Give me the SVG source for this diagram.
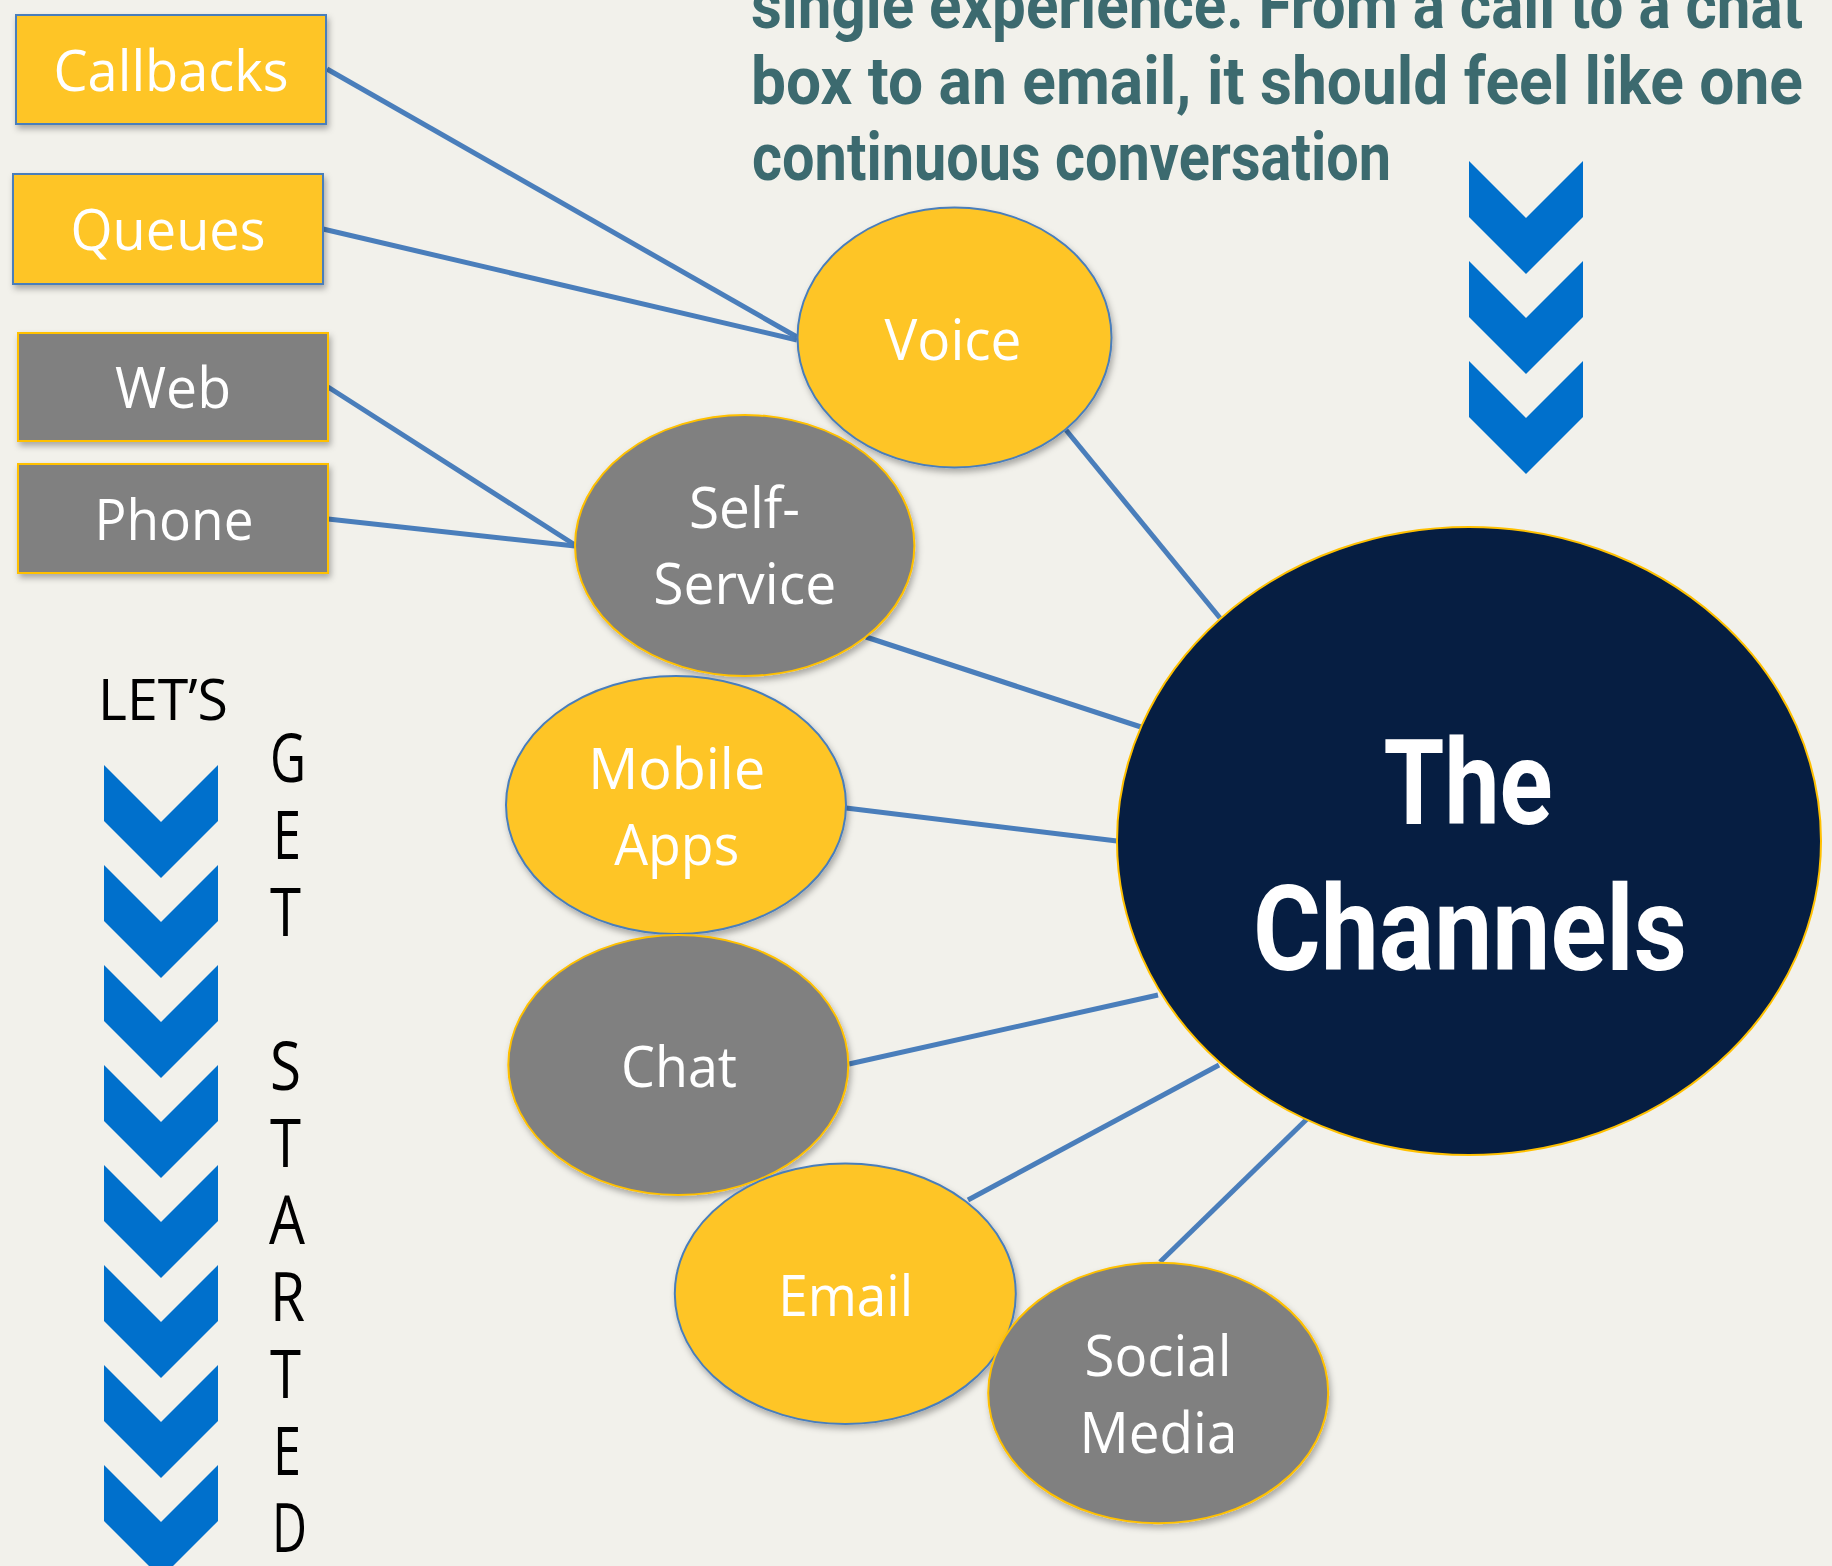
<svg xmlns="http://www.w3.org/2000/svg" xmlns:xlink="http://www.w3.org/1999/xlink" width="1832" height="1566" viewBox="0 0 1832 1566">
  <defs>
    <style>
      .bg { fill: #F2F1EB; }
      .gold { fill: #FEC526; stroke: #4A7EBB; stroke-width: 2; }
      .grey { fill: #808080; stroke: #FFC000; stroke-width: 2; }
      .hub { fill: #061E42; stroke: #FFC000; stroke-width: 2; }
      .lbl { font-family: "Open Sans", "Liberation Sans", sans-serif; font-size: 57px; fill: #FFFFFF; text-anchor: middle; }
      .side { font-family: "Open Sans", "Liberation Sans", sans-serif; fill: #000000; }
      .head { font-family: Roboto, "Liberation Sans", sans-serif; font-weight: 700; font-size: 66px; fill: #3C6A6F; }
      .hubtxt { font-family: Roboto, "Liberation Sans", sans-serif; font-weight: 700; font-size: 118px; fill: #FFFFFF; text-anchor: middle; }
      .link { stroke: #4A7EBB; stroke-width: 5; fill: none; stroke-linecap: butt; }
      .chev { fill: #0070CC; }
    </style>
    <filter id="shadow" x="-10%" y="-10%" width="125%" height="130%">
      <feDropShadow dx="2" dy="4" stdDeviation="3" flood-color="#000000" flood-opacity="0.3"/>
    </filter>
    <path id="chevron" class="chev" d="M0 0 L57 57 L114 0 L114 56 L57 113 L0 56 Z"/>
  </defs>

  <rect class="bg" x="0" y="0" width="1832" height="1566"/>

  <!-- intro paragraph, top right -->
  <g id="intro">
    <text class="head" x="751" y="28" textLength="1052" lengthAdjust="spacingAndGlyphs">single experience. From a call to a chat</text>
    <text class="head" x="751" y="104" textLength="1052" lengthAdjust="spacingAndGlyphs">box to an email, it should feel like one</text>
    <text class="head" x="752" y="180" textLength="639" lengthAdjust="spacingAndGlyphs">continuous conversation</text>
  </g>

  <!-- downward chevrons under the paragraph -->
  <g id="chevrons-right">
    <use xlink:href="#chevron" x="1469" y="161"/>
    <use xlink:href="#chevron" x="1469" y="261"/>
    <use xlink:href="#chevron" x="1469" y="361"/>
  </g>

  <!-- LET'S GET STARTED column -->
  <g id="get-started">
    <text class="side" x="163" y="720" font-size="57" text-anchor="middle" textLength="130" lengthAdjust="spacingAndGlyphs">LET’S</text>
    <g font-size="67">
      <text class="side" x="270" y="782" textLength="36" lengthAdjust="spacingAndGlyphs">G</text>
      <text class="side" x="273" y="859" textLength="28" lengthAdjust="spacingAndGlyphs">E</text>
      <text class="side" x="270" y="936" textLength="31" lengthAdjust="spacingAndGlyphs">T</text>
      <text class="side" x="270" y="1090" textLength="31" lengthAdjust="spacingAndGlyphs">S</text>
      <text class="side" x="270" y="1167" textLength="31" lengthAdjust="spacingAndGlyphs">T</text>
      <text class="side" x="269" y="1244" textLength="36" lengthAdjust="spacingAndGlyphs">A</text>
      <text class="side" x="270" y="1321" textLength="35" lengthAdjust="spacingAndGlyphs">R</text>
      <text class="side" x="270" y="1398" textLength="31" lengthAdjust="spacingAndGlyphs">T</text>
      <text class="side" x="273" y="1475" textLength="28" lengthAdjust="spacingAndGlyphs">E</text>
      <text class="side" x="272" y="1552" textLength="35" lengthAdjust="spacingAndGlyphs">D</text>
    </g>
  </g>
  <g id="chevrons-left">
    <use xlink:href="#chevron" x="104" y="765"/>
    <use xlink:href="#chevron" x="104" y="865"/>
    <use xlink:href="#chevron" x="104" y="965"/>
    <use xlink:href="#chevron" x="104" y="1065"/>
    <use xlink:href="#chevron" x="104" y="1165"/>
    <use xlink:href="#chevron" x="104" y="1265"/>
    <use xlink:href="#chevron" x="104" y="1365"/>
    <use xlink:href="#chevron" x="104" y="1465"/>
  </g>

  <!-- connectors -->
  <g id="connectors">
    <line class="link" x1="327" y1="69" x2="797" y2="337"/>
    <line class="link" x1="323" y1="229" x2="797" y2="340"/>
    <line class="link" x1="328" y1="387" x2="575" y2="545"/>
    <line class="link" x1="328" y1="519" x2="575" y2="546"/>
    <line class="link" x1="1066" y1="430" x2="1220" y2="618"/>
    <line class="link" x1="866" y1="637" x2="1141" y2="727"/>
    <line class="link" x1="846" y1="808" x2="1117" y2="841"/>
    <line class="link" x1="849" y1="1064" x2="1158" y2="995"/>
    <line class="link" x1="968" y1="1200" x2="1219" y2="1065"/>
    <line class="link" x1="1160" y1="1262" x2="1308" y2="1118"/>
  </g>

  <!-- feature boxes -->
  <g id="callbacks">
    <rect class="gold" x="16" y="15" width="310" height="109" filter="url(#shadow)"/>
    <text class="lbl" x="171" y="91" textLength="235" lengthAdjust="spacingAndGlyphs">Callbacks</text>
  </g>
  <g id="queues">
    <rect class="gold" x="13" y="174" width="310" height="110" filter="url(#shadow)"/>
    <text class="lbl" x="168" y="250" textLength="195" lengthAdjust="spacingAndGlyphs">Queues</text>
  </g>
  <g id="web">
    <rect class="grey" x="18" y="333" width="310" height="108" filter="url(#shadow)"/>
    <text class="lbl" x="173" y="408" textLength="116" lengthAdjust="spacingAndGlyphs">Web</text>
  </g>
  <g id="phone">
    <rect class="grey" x="18" y="464" width="310" height="109" filter="url(#shadow)"/>
    <text class="lbl" x="174" y="540" textLength="159" lengthAdjust="spacingAndGlyphs">Phone</text>
  </g>

  <!-- channel nodes -->
  <g id="voice">
    <ellipse class="gold" cx="954.5" cy="337.5" rx="157" ry="130" filter="url(#shadow)"/>
    <text class="lbl" x="953" y="360" textLength="137" lengthAdjust="spacingAndGlyphs">Voice</text>
  </g>
  <g id="self-service">
    <ellipse class="grey" cx="744.7" cy="545.5" rx="169.7" ry="130.5" filter="url(#shadow)"/>
    <text class="lbl" x="744.5" y="528" textLength="111" lengthAdjust="spacingAndGlyphs">Self-</text>
    <text class="lbl" x="744.7" y="604" textLength="183" lengthAdjust="spacingAndGlyphs">Service</text>
  </g>
  <g id="mobile-apps">
    <ellipse class="gold" cx="676" cy="805" rx="170" ry="129" filter="url(#shadow)"/>
    <text class="lbl" x="676.7" y="789" textLength="177" lengthAdjust="spacingAndGlyphs">Mobile</text>
    <text class="lbl" x="676.7" y="865" textLength="125" lengthAdjust="spacingAndGlyphs">Apps</text>
  </g>
  <g id="chat">
    <ellipse class="grey" cx="678.3" cy="1065" rx="170" ry="130" filter="url(#shadow)"/>
    <text class="lbl" x="679" y="1086.5" textLength="116" lengthAdjust="spacingAndGlyphs">Chat</text>
  </g>
  <g id="email">
    <ellipse class="gold" cx="845.3" cy="1293.7" rx="170.5" ry="130.3" filter="url(#shadow)"/>
    <text class="lbl" x="845.7" y="1315.5" textLength="135" lengthAdjust="spacingAndGlyphs">Email</text>
  </g>
  <g id="social-media">
    <ellipse class="grey" cx="1158.2" cy="1393" rx="170" ry="130.3" filter="url(#shadow)"/>
    <text class="lbl" x="1158" y="1376" textLength="147" lengthAdjust="spacingAndGlyphs">Social</text>
    <text class="lbl" x="1158.4" y="1453" textLength="158" lengthAdjust="spacingAndGlyphs">Media</text>
  </g>

  <!-- central hub -->
  <g id="the-channels">
    <ellipse class="hub" cx="1469" cy="841" rx="352" ry="314"/>
    <text class="hubtxt" x="1468" y="824" textLength="169" lengthAdjust="spacingAndGlyphs">The</text>
    <text class="hubtxt" x="1470" y="970" textLength="434" lengthAdjust="spacingAndGlyphs">Channels</text>
  </g>
</svg>
